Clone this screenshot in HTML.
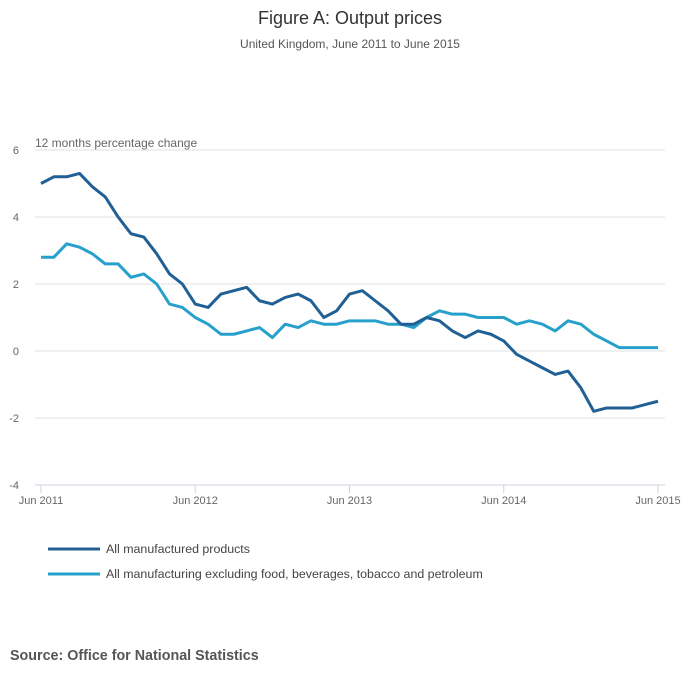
<!DOCTYPE html>
<html><head><meta charset="utf-8"><style>
body{margin:0;background:#fff;font-family:"Liberation Sans",sans-serif;}
</style></head><body>
<svg width="700" height="682" xmlns="http://www.w3.org/2000/svg" font-family="Liberation Sans, sans-serif">
<text x="350" y="24" text-anchor="middle" font-size="18" fill="#333">Figure A: Output prices</text>
<text x="350" y="48" text-anchor="middle" font-size="12" fill="#555">United Kingdom, June 2011 to June 2015</text>
<text x="35" y="147" font-size="12" fill="#666">12 months percentage change</text>
<g id="grid"></g><g id="axis"></g><g id="lines"></g>
<g>
<line x1="48" y1="549" x2="100" y2="549" stroke="#206095" stroke-width="3"/>
<text x="106" y="553" font-size="12.4" fill="#444">All manufactured products</text>
<line x1="48" y1="574" x2="100" y2="574" stroke="#27a0cc" stroke-width="3"/>
<text x="106" y="578" font-size="12.4" fill="#444">All manufacturing excluding food, beverages, tobacco and petroleum</text>
</g>
<text x="10" y="660" font-size="14.3" font-weight="bold" fill="#555">Source: Office for National Statistics</text>
</svg>
<script>
const yTicks=[6,4,2,0,-2,-4];
const xTickLabels=["Jun 2011","Jun 2012","Jun 2013","Jun 2014","Jun 2015"];
const allProducts=[5.0,5.2,5.2,5.3,4.9,4.6,4.0,3.5,3.4,2.9,2.3,2.0,1.4,1.3,1.7,1.8,1.9,1.5,1.4,1.6,1.7,1.5,1.0,1.2,1.7,1.8,1.5,1.2,0.8,0.8,1.0,0.9,0.6,0.4,0.6,0.5,0.3,-0.1,-0.3,-0.5,-0.7,-0.6,-1.1,-1.8,-1.7,-1.7,-1.7,-1.6,-1.5];
const excluding=[2.8,2.8,3.2,3.1,2.9,2.6,2.6,2.2,2.3,2.0,1.4,1.3,1.0,0.8,0.5,0.5,0.6,0.7,0.4,0.8,0.7,0.9,0.8,0.8,0.9,0.9,0.9,0.8,0.8,0.7,1.0,1.2,1.1,1.1,1.0,1.0,1.0,0.8,0.9,0.8,0.6,0.9,0.8,0.5,0.3,0.1,0.1,0.1,0.1];
const NS="http://www.w3.org/2000/svg";
const x0=41,x1=658,y0=150,y1=485,yMax=6,yMin=-4,n=allProducts.length-1;
const xs=i=>x0+(x1-x0)*i/n;
const ys=v=>y0+(yMax-v)/(yMax-yMin)*(y1-y0);
function mk(tag,at,parent){const e=document.createElementNS(NS,tag);for(const k in at)e.setAttribute(k,at[k]);document.getElementById(parent).appendChild(e);return e;}
yTicks.forEach(t=>{
  const l=mk("line",{x1:35,x2:665,y1:ys(t),y2:ys(t),stroke:t===-4?"#ccd6e0":"#e0e0e0","stroke-width":1},"grid");
  
  
  const tx=mk("text",{x:19,y:ys(t)+4,"text-anchor":"end","font-size":11,fill:"#666"},"grid");
  tx.textContent=t;
  
  
});
xTickLabels.forEach((lab,k)=>{
  const x=xs(k*12);
  const l=mk("line",{x1:x,x2:x,y1:485,y2:493,stroke:"#ccd6e0"},"axis");
  
  
  const tx=mk("text",{x:x,y:504,"text-anchor":"middle","font-size":11,fill:"#666"},"axis");
  tx.textContent=lab;
  
  
});
function line(data,color,name){
  const p=mk("polyline",{points:data.map((v,i)=>xs(i)+","+ys(v)).join(" "),fill:"none",stroke:color,"stroke-width":3,"stroke-linejoin":"round"},"lines");
  
  
}
line(excluding,"#27a0cc","line-excluding");
line(allProducts,"#206095","line-all-products");
</script>
</body></html>
